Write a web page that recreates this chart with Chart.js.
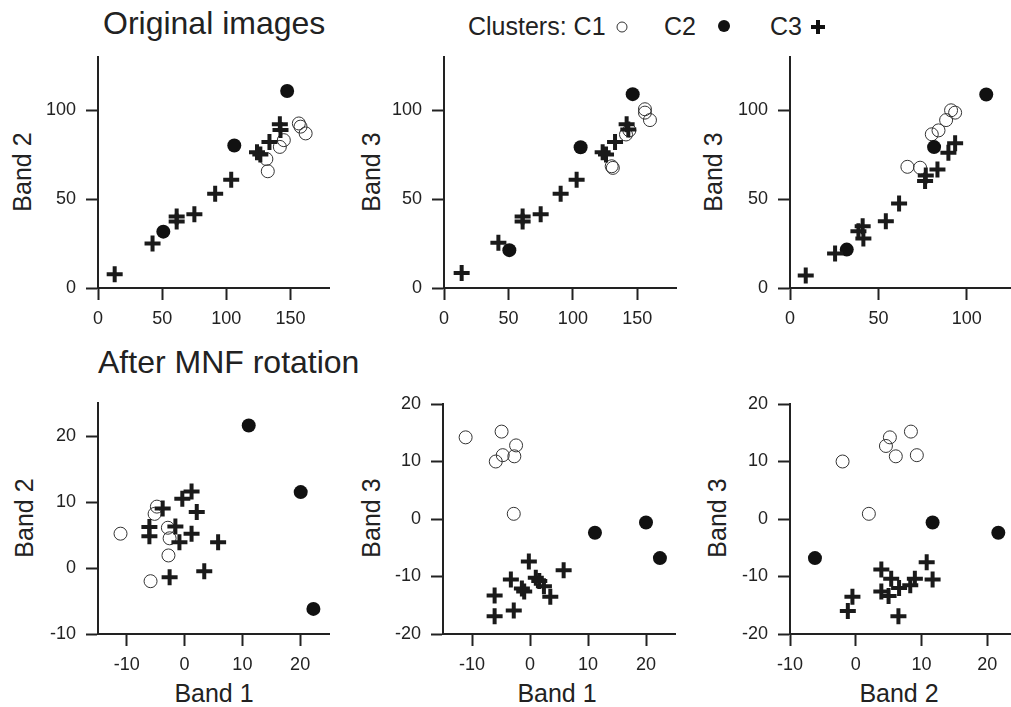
<!DOCTYPE html>
<html>
<head>
<meta charset="utf-8">
<script src="https://cdn.jsdelivr.net/npm/chart.js@4.4.0/dist/chart.umd.min.js"></script>
<style>
html, body { margin: 0; padding: 0; background: #fff; width: 1011px; height: 707px; overflow: hidden; }
body { position: relative; font-family: 'Liberation Sans', Arial, sans-serif; color: #222; }
canvas { position: absolute; }
.txt { position: absolute; white-space: nowrap; line-height: 1; transform: translate(-50%, -50%); }
.lft { transform: translate(0, -50%); }
.rot { transform: translate(-50%, -50%) rotate(-90deg); }
.title { font-size: 32px; }
.axt { font-size: 25px; }
.leg { font-size: 25px; }
.mk { position: absolute; transform: translate(-50%, -50%); box-sizing: border-box; }
.m-open { width: 11px; height: 11px; border: 1px solid #333; border-radius: 50%; }
.m-dot { width: 12px; height: 12px; background: #111; border-radius: 50%; }
.m-plus { width: 14px; height: 14px; }
.m-plus::before, .m-plus::after { content: ''; position: absolute; background: #111; }
.m-plus::before { left: 0; top: 5px; width: 14px; height: 4px; }
.m-plus::after { left: 5px; top: 0; width: 4px; height: 14px; }
</style>
</head>
<body>

<div class="txt lft title" style="left:103px; top:23px;">Original images</div>
<div class="txt lft title" style="left:98px; top:362px;">After MNF rotation</div>

<div class="txt lft leg" style="left:468px; top:26px;">Clusters: C1</div>
<div class="mk m-open" style="left:622px; top:27px;"></div>
<div class="txt lft leg" style="left:664px; top:26px;">C2</div>
<div class="mk m-dot" style="left:724px; top:26px;"></div>
<div class="txt lft leg" style="left:770px; top:26px;">C3</div>
<div class="mk m-plus" style="left:818px; top:27px;"></div>

<div class="txt rot axt" style="left:22px; top:172px;">Band 2</div>
<div class="txt rot axt" style="left:371px; top:172px;">Band 3</div>
<div class="txt rot axt" style="left:713px; top:172px;">Band 3</div>
<div class="txt rot axt" style="left:24px; top:518px;">Band 2</div>
<div class="txt rot axt" style="left:371px; top:518px;">Band 3</div>
<div class="txt rot axt" style="left:717px; top:518px;">Band 3</div>
<div class="txt axt" style="left:214px; top:693px;">Band 1</div>
<div class="txt axt" style="left:557px; top:693px;">Band 1</div>
<div class="txt axt" style="left:899px; top:693px;">Band 2</div>

<canvas id="p1"></canvas>
<canvas id="p2"></canvas>
<canvas id="p3"></canvas>
<canvas id="p4"></canvas>
<canvas id="p5"></canvas>
<canvas id="p6"></canvas>

<script>
// tick values
const origY = [0, 50, 100];
const origX12 = [0, 50, 100, 150];
const origX3 = [0, 50, 100];
const mnfTicks4 = [-10, 0, 10, 20];
const mnfTicks5 = [-20, -10, 0, 10, 20];

// --- original images: band1 vs band2 ---
const p1C1 = [[156.5, 92.6], [157.8, 90.8], [161.8, 87.0], [144.8, 83.2], [141.7, 79.4], [131.2, 72.6], [132.3, 65.7]];
const p1C2 = [[147.4, 110.9], [106.2, 80.2], [50.9, 31.7]];
const p1C3 = [[13.0, 7.7], [42.5, 25.1], [61.3, 40.2], [61.3, 37.4], [75.1, 41.5], [91.3, 53.0], [103.8, 60.9], [123.9, 76.4], [126.5, 75.1], [133.6, 82.1], [141.7, 92.1], [142.2, 88.9]];

// band1 vs band3
const p2C1 = [[155.9, 100.6], [155.9, 98.7], [159.8, 94.5], [141.2, 86.4], [143.8, 88.7], [130.1, 68.5], [131.0, 67.6]];
const p2C2 = [[146.4, 109.1], [106.0, 79.2], [50.7, 21.3]];
const p2C3 = [[13.7, 8.5], [42.2, 25.5], [61.0, 40.2], [61.0, 37.4], [75.0, 41.5], [90.5, 53.0], [102.9, 60.9], [123.1, 76.4], [125.7, 75.1], [132.7, 82.1], [141.7, 92.1], [143.0, 89.2]];

// band2 vs band3
const p3C1 = [[66.4, 68.2], [73.6, 67.7], [80.2, 86.5], [84.0, 88.7], [88.3, 94.5], [91.1, 100.0], [93.4, 98.7]];
const p3C2 = [[32.1, 21.6], [81.5, 79.3], [111.0, 108.9]];
const p3C3 = [[8.9, 7.0], [25.5, 19.4], [38.7, 32.0], [41.1, 34.8], [41.5, 27.8], [54.2, 37.6], [61.7, 47.6], [76.4, 60.2], [76.8, 63.3], [83.4, 66.7], [89.6, 76.1], [93.4, 81.4]];

// --- after MNF: band1 vs band2 ---
const p4C1 = [[-11.1, 5.2], [-4.8, 9.3], [-5.2, 8.2], [-2.9, 6.1], [-2.6, 4.5], [-2.8, 1.9], [-5.9, -2.0]];
const p4C2 = [[11.1, 21.6], [20.1, 11.5], [22.3, -6.2]];
const p4C3 = [[-6.1, 6.2], [-6.1, 4.8], [-3.8, 9.0], [-1.6, 6.3], [-0.9, 3.9], [-2.6, -1.4], [-0.4, 10.5], [1.2, 11.6], [1.2, 5.2], [2.1, 8.5], [3.4, -0.5], [5.8, 3.9]];

// band1 vs band3
const p5C1 = [[-11.1, 14.2], [-4.9, 15.2], [-4.7, 11.1], [-5.9, 10.0], [-2.4, 12.8], [-2.7, 10.9], [-2.8, 0.9]];
const p5C2 = [[11.2, -2.4], [20.0, -0.6], [22.4, -6.8]];
const p5C3 = [[-6.1, -13.3], [-6.1, -16.9], [-2.8, -15.9], [-3.3, -10.5], [-1.4, -12.1], [-1.0, -12.6], [-0.2, -7.4], [1.0, -10.2], [1.6, -10.8], [2.4, -11.7], [3.5, -13.5], [5.8, -8.9]];

// band2 vs band3
const p6C1 = [[-2.0, 10.0], [2.0, 0.9], [4.6, 12.7], [5.2, 14.2], [6.1, 10.9], [8.4, 15.2], [9.3, 11.1]];
const p6C2 = [[-6.2, -6.8], [11.7, -0.6], [21.7, -2.4]];
const p6C3 = [[-1.2, -16.0], [-0.5, -13.5], [3.9, -8.8], [3.9, -12.6], [5.0, -13.4], [5.4, -10.4], [6.5, -16.9], [6.6, -12.0], [8.3, -11.5], [9.0, -10.4], [10.8, -7.5], [11.7, -10.5]];

// the y scale asks for ~21px above its top label, so keep PAD_T over that
const Y_W = 80, X_H = 45, PAD_T = 24, PAD_R = 12;
const ink = '#222';

function pts(arr) { return arr.map(p => ({ x: p[0], y: p[1] })); }

function axis(min, max, ticks, isX) {
    return {
        type: 'linear', min: min, max: max,
        afterBuildTicks: s => { s.ticks = ticks.map(v => ({ value: v })); },
        afterFit: s => { if (isX) s.height = X_H; else s.width = Y_W; },
        grid: { drawOnChartArea: false, drawTicks: true, tickLength: 12, tickWidth: 2, tickColor: ink },
        border: { display: true, color: ink, width: 2 },
        ticks: { padding: isX ? 8 : 10, color: ink, font: { size: 18 }, maxRotation: 0, autoSkip: false }
    };
}

// area = chart area edges on the page: [left, top, right, bottom]
function panel(id, area, xr, yr, xt, yt, c1, c2, c3) {
    const cv = document.getElementById(id);
    const left = area[0] - Y_W, top = area[1] - PAD_T;
    cv.width = area[2] + PAD_R - left;
    cv.height = area[3] + X_H - top;
    cv.style.left = left + 'px';
    cv.style.top = top + 'px';
    new Chart(cv.getContext('2d'), {
        type: 'scatter',
        data: {
            datasets: [
                { data: pts(c3), pointStyle: 'cross', pointRadius: 8, borderWidth: 4, borderColor: '#1a1a1a', clip: false },
                { data: pts(c2), pointStyle: 'circle', pointRadius: 7, borderWidth: 0, backgroundColor: '#111', borderColor: '#111', clip: false },
                { data: pts(c1), pointStyle: 'circle', pointRadius: 6.5, borderWidth: 1, backgroundColor: 'rgba(0,0,0,0)', borderColor: '#333', clip: false }
            ]
        },
        options: {
            responsive: false, animation: false, devicePixelRatio: 1,
            layout: { padding: { left: 0, top: PAD_T, right: PAD_R, bottom: 0 } },
            plugins: { legend: { display: false }, tooltip: { enabled: false } },
            elements: { point: { hoverRadius: 7 } },
            scales: { x: axis(xr[0], xr[1], xt, true), y: axis(yr[0], yr[1], yt, false) }
        }
    });
}

Chart.defaults.font.family = "'Liberation Sans', Arial, sans-serif";

panel('p1', [98, 57, 329, 288], [0, 180], [0, 130], origX12, origY, p1C1, p1C2, p1C3);
panel('p2', [444, 57, 676, 288], [0, 180], [0, 130], origX12, origY, p2C1, p2C2, p2C3);
panel('p3', [790, 57, 1011, 288], [0, 125], [0, 130], origX3, origY, p3C1, p3C2, p3C3);
panel('p4', [98, 403, 329, 634], [-15, 25], [-10, 25], mnfTicks4, mnfTicks4, p4C1, p4C2, p4C3);
panel('p5', [443, 404, 675, 634], [-15, 25], [-20, 20], mnfTicks4, mnfTicks5, p5C1, p5C2, p5C3);
panel('p6', [790, 404, 1020, 634], [-10, 25], [-20, 20], mnfTicks4, mnfTicks5, p6C1, p6C2, p6C3);
</script>
</body>
</html>
